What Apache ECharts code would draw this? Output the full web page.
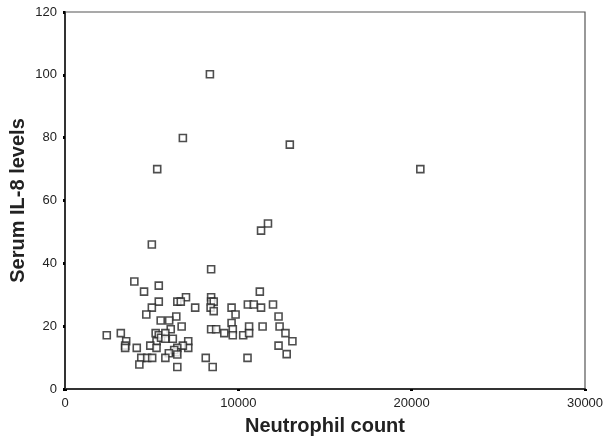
<!DOCTYPE html>
<html><head><meta charset="utf-8">
<script src="https://cdn.jsdelivr.net/npm/echarts@6/dist/echarts.min.js"></script>
<style>html,body{margin:0;padding:0;background:#fff}#c{width:608px;height:437px}</style>
</head><body><div id="c"></div>
<script>
var neutrophil = [8360,6800,12970,5320,20500,11710,11310,5010,8430,4000,5410,4560,11240,8430,6980,5410,6480,6680,8430,8580,7510,5010,8400,8580,9610,9840,10550,10890,11310,12000,12320,4690,6420,5520,6010,9610,6730,6100,8430,8720,9680,10620,11400,12380,2410,3220,3530,3470,3470,4140,5230,5410,5280,5540,4920,5280,5790,5790,6220,9190,9680,10280,10620,12720,7110,7110,6800,6480,6420,6300,5990,6480,12320,13120,12790,4400,4740,5030,5790,8120,10530,4290,6480,8520];
var il8 = [100.2,79.9,77.8,70.0,70.0,52.7,50.4,46.0,38.1,34.2,32.9,31.0,31.0,29.2,29.2,27.8,27.8,27.8,27.8,27.8,25.9,25.9,25.9,24.8,25.9,23.7,26.9,26.9,25.9,26.9,23.1,23.7,23.1,21.8,21.8,21.0,19.9,19.0,19.0,19.0,19.0,19.9,19.9,19.9,17.1,17.8,15.2,13.8,13.1,13.1,17.8,17.1,15.2,16.3,13.8,13.1,17.8,16.0,16.0,17.8,17.1,17.1,17.8,17.8,15.2,13.1,13.8,13.1,11.7,12.4,11.4,11.0,13.8,15.2,11.1,9.9,9.9,9.9,9.9,9.9,9.9,7.8,7.0,7.0];
var xTicks = [0,10000,20000,30000];
var yTicks = [0,20,40,60,80,100,120];
var pts = neutrophil.map(function(v,i){return [v, il8[i]];});
var chart = echarts.init(document.getElementById('c'));
var axisCol = '#333';
var ff = 'Liberation Sans, Arial, sans-serif';
chart.setOption({
  animation:false,
  backgroundColor:'#fff',
  grid:{left:65,right:23,top:12,bottom:48,containLabel:false,outerBoundsMode:'none',show:true,borderColor:'#555',borderWidth:1.2,backgroundColor:'transparent'},
  xAxis:{type:'value',min:xTicks[0],max:xTicks[xTicks.length-1],interval:10000,
    name:'Neutrophil count',nameLocation:'middle',nameGap:27,nameMoveOverlap:false,
    nameTextStyle:{fontFamily:ff,fontSize:20,fontWeight:'bold',color:'#222'},
    axisLine:{show:true,lineStyle:{color:axisCol,width:2}},
    axisTick:{show:true,inside:false,length:2,lineStyle:{color:'#000',width:3}},
    axisLabel:{fontFamily:ff,fontSize:13,color:'#222',margin:8,formatter:function(v){return String(v);}},
    splitLine:{show:false}},
  yAxis:{type:'value',min:yTicks[0],max:yTicks[yTicks.length-1],interval:20,
    name:'Serum IL-8 levels',nameLocation:'middle',nameGap:37,nameMoveOverlap:false,
    nameTextStyle:{fontFamily:ff,fontSize:20,fontWeight:'bold',color:'#222'},
    axisLine:{show:true,lineStyle:{color:axisCol,width:2}},
    axisTick:{show:true,length:2,lineStyle:{color:'#000',width:3}},
    axisLabel:{fontFamily:ff,fontSize:13,color:'#222',margin:8},
    splitLine:{show:false}},
  series:[{type:'scatter',data:pts,symbol:'rect',symbolSize:7,
    itemStyle:{color:'#fff',borderColor:'#222',borderWidth:1.6}}]
});
</script></body></html>
